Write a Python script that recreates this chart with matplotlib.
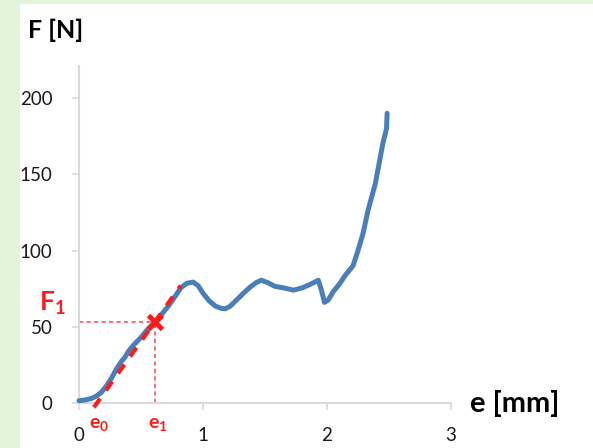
import matplotlib.pyplot as plt
from matplotlib.patches import Rectangle

# force-displacement curve, e [mm] vs F [N]
e_mm = [0.0, 0.05, 0.10, 0.14, 0.18, 0.22, 0.26, 0.30, 0.34, 0.37, 0.40, 0.44,
        0.50, 0.55, 0.61, 0.66, 0.72, 0.78, 0.82, 0.87, 0.92, 0.96, 1.00, 1.05,
        1.10, 1.15, 1.18, 1.22, 1.27, 1.32, 1.38, 1.43, 1.47, 1.52, 1.58, 1.65,
        1.73, 1.80, 1.87, 1.93, 1.955, 1.98, 2.01, 2.05, 2.10, 2.15, 2.21, 2.25,
        2.29, 2.33, 2.39, 2.45, 2.48, 2.485]
force_n = [1.5, 2, 3, 4.5, 7, 11, 16, 22, 27, 30, 34, 38,
           43, 48, 53, 57.5, 63.5, 70.5, 75.5, 78.5, 79.3, 77, 72, 67,
           63.5, 62, 61.8, 63.5, 67.5, 71.5, 76, 79, 80.5, 79, 76.5, 75.5,
           74, 75.5, 78, 80.5, 74, 66, 67.5, 73, 78, 84, 90, 100,
           111, 126, 144, 170, 180, 190]

# tangent construction
e0 = 0.145
e1 = 0.61
F1 = 53
tangent_x = [0.12, 0.82]

x_ticks = [0, 1, 2, 3]
y_ticks = [0, 50, 100, 150, 200]

BLUE = "#4a7ebb"
RED = "#ff1a1a"
GRID = "#d9d9d9"
FONT = ["Lato", "DejaVu Sans"]

plt.rcParams["mathtext.fontset"] = "custom"
plt.rcParams["mathtext.rm"] = "Lato"
plt.rcParams["mathtext.bf"] = "Lato:bold"

fig = plt.figure(figsize=(5.93, 4.48), dpi=100, facecolor="#e4f4da")
fig.patches.append(Rectangle((20 / 593, 0), 1, 1 - 4 / 448, transform=fig.transFigure,
                             facecolor="white", edgecolor="none", zorder=-5))

ax = fig.add_axes([79 / 593, 45 / 448, 372 / 593, 337 / 448])
ax.set_facecolor("none")

slope = F1 / (e1 - e0)
tangent_y = [slope * (x - e0) for x in tangent_x]
ax.plot(e_mm, force_n, color=BLUE, lw=3.6, solid_capstyle="round", zorder=3, clip_on=False)
ax.plot(tangent_x, tangent_y, color=RED, lw=3.0, ls=(0, (2.6, 2.4)), zorder=4, clip_on=False)

ax.plot([0, e1], [F1, F1], color=RED, lw=1.2, ls=(0, (2.5, 2)), alpha=0.75, zorder=1)
ax.plot([e1, e1], [0, F1], color=RED, lw=1.2, ls=(0, (2.5, 2)), alpha=0.75, zorder=1)
ax.plot([e1], [F1], marker="x", ms=10, mew=3.5, color=RED, zorder=5)

ax.set_xlim(0, 3)
ax.set_ylim(0, 221)
ax.set_xticks(x_ticks)
ax.set_yticks(y_ticks)
ax.set_xticklabels([str(v) for v in x_ticks], family=FONT, fontsize=13.5, color="#1a1a1a")
ax.set_yticklabels([str(v) for v in y_ticks], family=FONT, fontsize=13.5, color="#1a1a1a")
for side in ("top", "right"):
    ax.spines[side].set_visible(False)
for side in ("left", "bottom"):
    ax.spines[side].set_color(GRID)
    ax.spines[side].set_linewidth(1.5)
ax.tick_params(axis="both", length=5, width=1.2, color=GRID)
ax.tick_params(axis="x", pad=12)
ax.tick_params(axis="y", pad=14)

fig.text(28 / 593, 1 - 30 / 448, "F [N]", family=FONT, fontsize=18, fontweight="bold",
         va="center", ha="left")
fig.text(470 / 593, 1 - 403 / 448, "e [mm]", family=FONT, fontsize=21, fontweight="bold",
         va="center", ha="left")
fig.text(39 / 593, 1 - 303 / 448, r"$\mathbf{F_1}$", fontsize=19,
         color=RED, va="center", ha="left")
fig.text(99 / 593, 1 - 423 / 448, r"$\mathbf{e_0}$", fontsize=14,
         color=RED, va="center", ha="center")
fig.text(158 / 593, 1 - 423 / 448, r"$\mathbf{e_1}$", fontsize=14,
         color=RED, va="center", ha="center")

fig.savefig("out.png", dpi=100, facecolor=fig.get_facecolor())
